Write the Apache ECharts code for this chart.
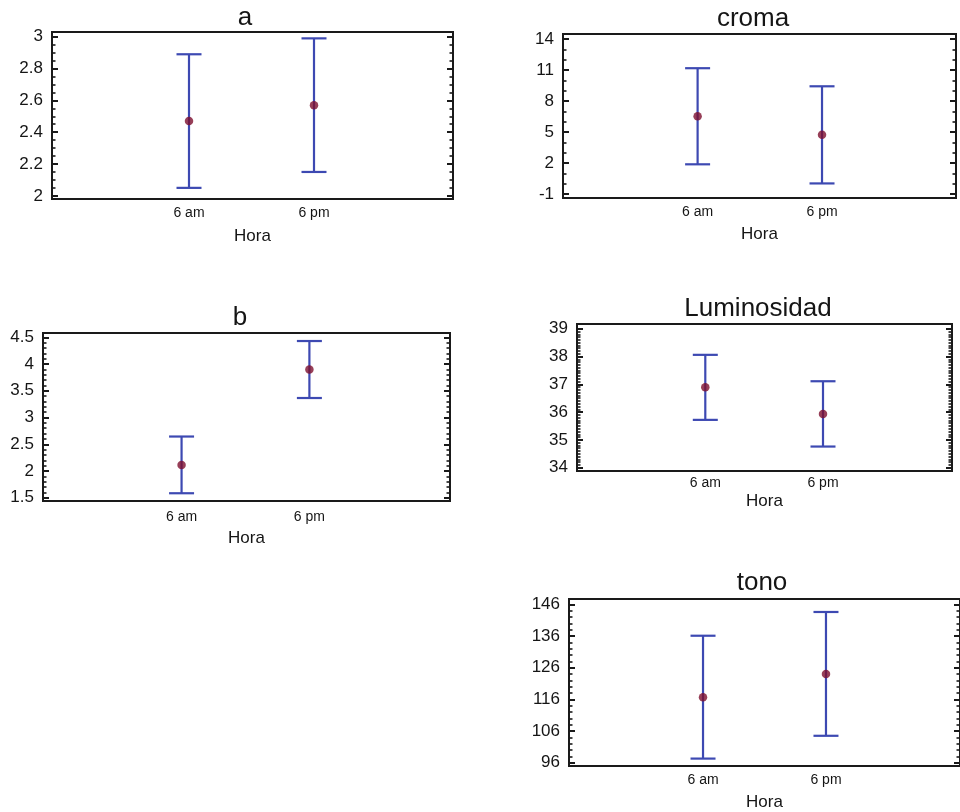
<!DOCTYPE html>
<html>
<head>
<meta charset="utf-8">
<title>Medias por hora</title>
<script src="https://cdn.jsdelivr.net/npm/echarts@6/dist/echarts.min.js"></script>
<style>
  html, body { margin: 0; padding: 0; background: #fff; }
  #chart { width: 960px; height: 812px; }
</style>
</head>
<body>
<div id="chart"></div>
<script>
// Categories on the x axis and their positions on the numeric x scale
const categories = ['6 am', '6 pm'];
const catPos = [1, 2];
const xAxisName = 'Hora';

// a
const aMean = [2.47, 2.57];
const aLow  = [2.05, 2.15];
const aHigh = [2.89, 2.99];
const aTicks = [2, 2.2, 2.4, 2.6, 2.8, 3];

// croma
const cromaMean = [6.52, 4.72];
const cromaLow  = [1.87, 0.02];
const cromaHigh = [11.17, 9.42];
const cromaTicks = [-1, 2, 5, 8, 11, 14];

// b
const bMean = [2.115, 3.90];
const bLow  = [1.585, 3.365];
const bHigh = [2.645, 4.43];
const bTicks = [1.5, 2, 2.5, 3, 3.5, 4, 4.5];

// Luminosidad
const lumMean = [36.89, 35.93];
const lumLow  = [35.72, 34.76];
const lumHigh = [38.06, 37.11];
const lumTicks = [34, 35, 36, 37, 38, 39];

// tono
const tonoMean = [116.7, 124.0];
const tonoLow  = [97.3, 104.5];
const tonoHigh = [136.1, 143.6];
const tonoTicks = [96, 106, 116, 126, 136, 146];

const FONT = 'Liberation Sans, Arial, sans-serif';
const BAR_COLOR = '#3d49b2';
const DOT_COLOR = '#7d0f2e';
const INK = '#151515';

// Panel layout: box placement, axis extents and minor tick subdivisions
const panels = [
  { title: 'a', titleX: 245, titleY: 18,
    grid: { left: 52, top: 32, width: 401, height: 167 },
    y: [1.98, 3.03], x: [-0.096, 3.112], minorSplit: 4, labelMargin: 7, nameGap: 29,
    mean: aMean, low: aLow, high: aHigh, ticks: aTicks },
  { title: 'croma', titleX: 753, titleY: 19,
    grid: { left: 563, top: 34, width: 393, height: 164 },
    y: [-1.39, 14.48], x: [-0.082, 3.077], minorSplit: 3, labelMargin: 7, nameGap: 28,
    mean: cromaMean, low: cromaLow, high: cromaHigh, ticks: cromaTicks },
  { title: 'b', titleX: 240, titleY: 318,
    grid: { left: 43, top: 333, width: 407, height: 168 },
    y: [1.44, 4.58], x: [-0.084, 3.10], minorSplit: 5, labelMargin: 9, nameGap: 29,
    mean: bMean, low: bLow, high: bHigh, ticks: bTicks },
  { title: 'Luminosidad', titleX: 758, titleY: 309,
    grid: { left: 577, top: 324, width: 375, height: 147 },
    y: [33.88, 39.17], x: [-0.09, 3.096], minorSplit: 10, labelMargin: 5, nameGap: 22,
    mean: lumMean, low: lumLow, high: lumHigh, ticks: lumTicks },
  { title: 'tono', titleX: 762, titleY: 583,
    grid: { left: 569, top: 599, width: 400, height: 167 },
    y: [94.96, 147.7], x: [-0.09, 3.09], minorSplit: 5, labelMargin: 7, nameGap: 28,
    mean: tonoMean, low: tonoLow, high: tonoHigh, ticks: tonoTicks }
];

// Minor tick positions between consecutive major ticks
function minorTicks(ticks, split) {
  const out = [];
  for (let i = 0; i < ticks.length - 1; i++) {
    const step = (ticks[i + 1] - ticks[i]) / split;
    for (let k = 1; k < split; k++) out.push(+(ticks[i] + k * step).toFixed(6));
  }
  return out;
}

const option = {
  animation: false,
  backgroundColor: '#fff',
  title: [], grid: [], xAxis: [], yAxis: [], series: []
};

panels.forEach((p, i) => {
  option.title.push({
    text: p.title, left: p.titleX, top: p.titleY,
    textAlign: 'center', textVerticalAlign: 'middle', padding: 0,
    textStyle: { fontFamily: FONT, fontSize: 26, fontWeight: 'normal', color: INK }
  });
  option.grid.push(Object.assign({
    show: true, borderColor: '#1a1a1a', borderWidth: 2, backgroundColor: 'transparent',
    containLabel: false
  }, p.grid));
  option.xAxis.push({
    type: 'value', gridIndex: i, min: p.x[0], max: p.x[1],
    axisLine: { show: false, onZero: false }, axisTick: { show: false }, splitLine: { show: false },
    axisLabel: {
      customValues: catPos, margin: p.labelMargin,
      formatter: v => categories[catPos.indexOf(v)] || '',
      fontFamily: FONT, fontSize: 14, color: INK
    },
    name: xAxisName, nameLocation: 'middle', nameGap: p.nameGap,
    nameTextStyle: { fontFamily: FONT, fontSize: 17, color: INK }
  });
  const minors = minorTicks(p.ticks, p.minorSplit);
  const base = {
    type: 'value', gridIndex: i, min: p.y[0], max: p.y[1], offset: 0,
    axisLine: { show: false, onZero: false }, splitLine: { show: false }
  };
  const majorStyle = { color: '#1a1a1a', width: 2 };
  const minorStyle = { color: '#1a1a1a', width: 1.6 };
  // left: major ticks with labels, then minor ticks
  option.yAxis.push(Object.assign({}, base, {
    position: 'left',
    axisTick: { show: true, inside: true, length: 6, customValues: p.ticks, lineStyle: majorStyle },
    axisLabel: { customValues: p.ticks, margin: 9, fontFamily: FONT, fontSize: 17, color: INK }
  }));
  option.yAxis.push(Object.assign({}, base, {
    position: 'left',
    axisTick: { show: true, inside: true, length: 3.5, customValues: minors, lineStyle: minorStyle },
    axisLabel: { show: false }
  }));
  // right: mirrored tick marks
  option.yAxis.push(Object.assign({}, base, {
    position: 'right',
    axisTick: { show: true, inside: true, length: 6, customValues: p.ticks, lineStyle: majorStyle },
    axisLabel: { show: false }
  }));
  option.yAxis.push(Object.assign({}, base, {
    position: 'right',
    axisTick: { show: true, inside: true, length: 3.5, customValues: minors, lineStyle: minorStyle },
    axisLabel: { show: false }
  }));
  const yIdx = i * 4;
  option.series.push({
    type: 'custom', xAxisIndex: i, yAxisIndex: yIdx,
    data: catPos.map((x, k) => [x, p.low[k], p.high[k]]),
    encode: { x: 0, y: [1, 2] },
    renderItem: (params, api) => {
      const x = api.value(0);
      const lo = api.coord([x, api.value(1)]);
      const hi = api.coord([x, api.value(2)]);
      const cap = 12.5;
      const style = { stroke: BAR_COLOR, lineWidth: 2.2, fill: null };
      return {
        type: 'group',
        children: [
          { type: 'line', shape: { x1: lo[0], y1: lo[1], x2: hi[0], y2: hi[1] }, style },
          { type: 'line', shape: { x1: lo[0] - cap, y1: lo[1], x2: lo[0] + cap, y2: lo[1] }, style },
          { type: 'line', shape: { x1: hi[0] - cap, y1: hi[1], x2: hi[0] + cap, y2: hi[1] }, style }
        ]
      };
    },
    z: 2
  });
  option.series.push({
    type: 'scatter', xAxisIndex: i, yAxisIndex: yIdx,
    data: catPos.map((x, k) => [x, p.mean[k]]),
    symbol: 'circle', symbolSize: 8.5,
    itemStyle: { color: DOT_COLOR },
    z: 3
  });
});

const chart = echarts.init(document.getElementById('chart'), null, { renderer: 'canvas' });
chart.setOption(option);
</script>
</body>
</html>
